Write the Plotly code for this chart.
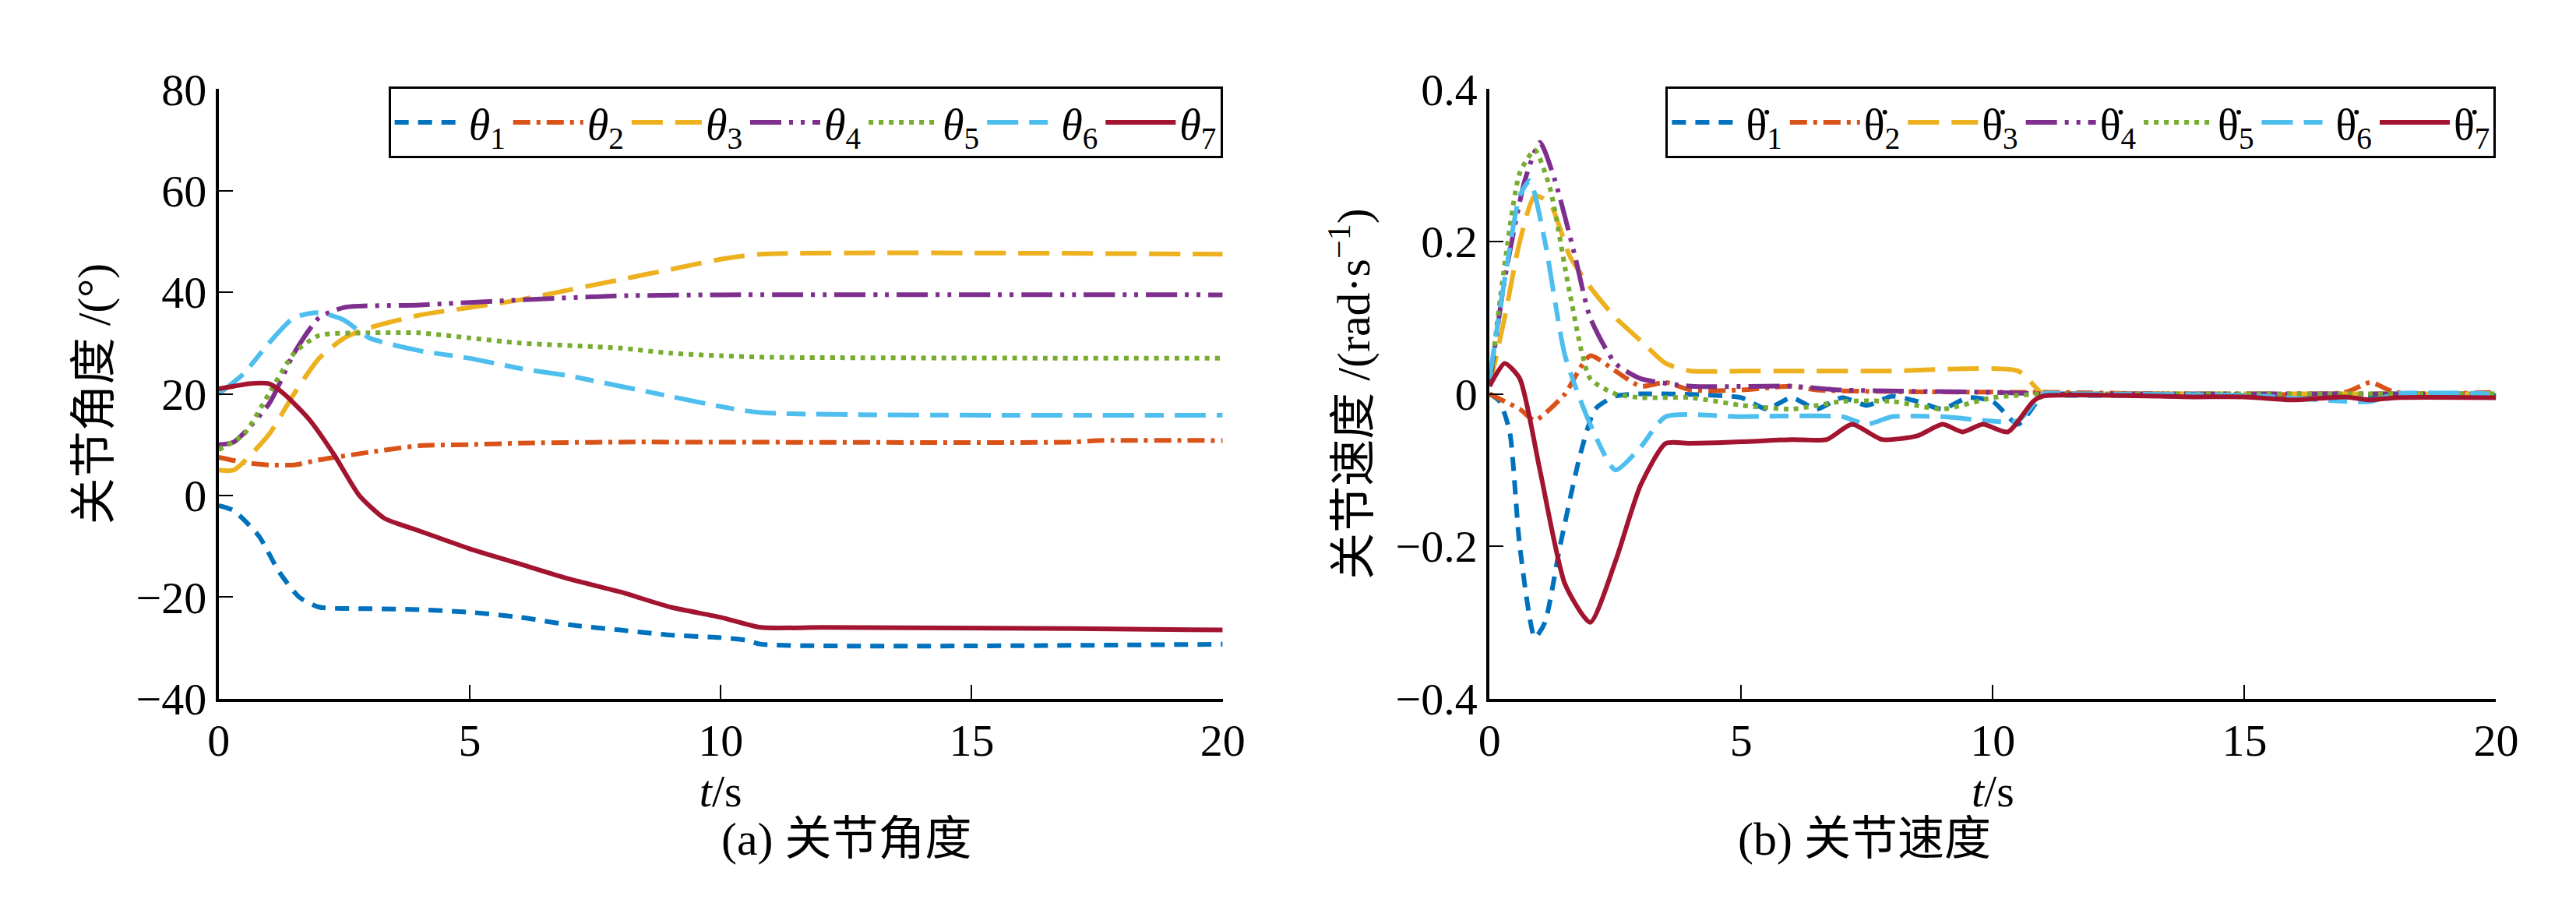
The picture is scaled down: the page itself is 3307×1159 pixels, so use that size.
import plotly.graph_objects as go

# ---- joint angles (deg) ----
t_a1 = [0, 0.3, 0.8, 1.2, 1.6, 2, 3, 4, 5, 6, 7, 8, 9, 10, 10.5, 10.8, 20]
a1 = [-2, -3, -8, -15, -20, -22, -22.3, -22.5, -23, -24, -25.5, -26.5, -27.5, -28, -28.5, -29.3, -29.3]
t_a2 = [0, 0.5, 1, 1.5, 2, 3, 4, 5, 6, 8, 17, 17.5, 20]
a2 = [7.5, 6.5, 6, 6, 7, 8.5, 9.8, 10, 10.3, 10.5, 10.5, 10.8, 10.8]
t_a3 = [0, 0.3, 1, 1.5, 2, 2.5, 3, 4, 5, 6, 7, 8, 9, 10, 10.8, 20]
a3 = [5, 5, 12, 20, 27, 31, 33, 35.5, 37, 38.5, 40.5, 42.5, 44.5, 46.5, 47.5, 47.5]
t_a4 = [0, 0.3, 1, 1.5, 2, 2.5, 4, 6, 8, 10, 20]
a4 = [10, 10.5, 18, 28, 35, 37, 37.5, 38.5, 39.3, 39.5, 39.5]
t_a5 = [0, 0.5, 1, 1.5, 2, 3, 4, 5, 6, 8, 9, 10, 11, 20]
a5 = [9, 12, 20, 28, 31.5, 32, 32, 31, 30, 29, 28, 27.5, 27.2, 27]
t_a6 = [0, 0.5, 1, 1.5, 2, 2.5, 3, 4, 5, 6, 7, 8, 9, 10, 10.8, 20]
a6 = [20, 24, 30, 35, 36, 34.5, 31, 28.5, 27, 25, 23.5, 21.5, 19.5, 17.5, 16.3, 15.8]
t_a7 = [0, 0.3, 0.6, 1, 1.3, 1.8, 2.3, 2.8, 3.3, 4, 5, 6, 7, 8, 9, 10, 10.8, 12, 17, 20]
a7 = [21, 21.5, 22, 22, 20, 15, 8, 0, -4.5, -7, -10.5, -13.5, -16.5, -19, -22, -24, -26, -26, -26.2, -26.5]

# ---- joint velocities (rad/s) ----
t_v1 = [0, 0.2, 0.4, 0.6, 0.9, 1.1, 1.4, 1.8, 2.1, 2.5, 3, 5, 5.5, 6, 6.5, 7, 7.5, 8, 8.5, 9, 9.5, 10, 10.5, 11, 11.5, 20]
v1 = [0, -0.01, -0.05, -0.2, -0.32, -0.3, -0.2, -0.08, -0.02, -0.003, 0, -0.005, -0.02, -0.005, -0.02,
      -0.005, -0.015, -0.003, -0.01, -0.02, -0.005, -0.01, -0.04, -0.002, -0.002, -0.002]
t_v2 = [0, 0.3, 0.6, 0.9, 1.2, 1.5, 2, 2.5, 3, 3.5, 4, 5, 6, 6.5, 8, 11, 17, 17.5, 18, 20]
v2 = [0, -0.01, -0.02, -0.035, -0.02, 0, 0.05, 0.03, 0.01, 0.015, 0.005, 0.005, 0.01, 0.005, 0.003,
      0.002, 0.002, 0.015, 0.002, 0.002]
t_v3 = [0, 0.3, 0.6, 0.9, 1.2, 1.6, 2, 2.5, 3, 3.5, 4, 5, 6, 8, 10.5, 11, 11.5, 20]
v3 = [0.01, 0.1, 0.2, 0.26, 0.25, 0.18, 0.14, 0.1, 0.07, 0.04, 0.03, 0.03, 0.03, 0.03, 0.03, 0, 0, 0]
t_v4 = [0, 0.3, 0.7, 1, 1.3, 1.7, 2, 2.5, 3, 4, 6, 7, 10, 11, 11.5, 20]
v4 = [0.01, 0.15, 0.28, 0.33, 0.28, 0.18, 0.1, 0.04, 0.02, 0.01, 0.01, 0.005, 0.002, 0, 0, 0]
t_v5 = [0, 0.3, 0.6, 0.9, 1.2, 1.6, 2, 2.5, 3, 4, 5, 6, 7, 8, 9, 10, 11, 11.5, 20]
v5 = [0.01, 0.17, 0.29, 0.32, 0.27, 0.13, 0.02, 0, -0.005, -0.005, -0.015, -0.02, -0.01, -0.01, -0.02,
      -0.005, 0, 0, 0]
t_v6 = [0, 0.3, 0.6, 0.8, 1.1, 1.5, 2, 2.5, 3, 3.5, 5, 7, 7.5, 8, 9, 10.5, 11, 11.5, 15, 17.5, 18, 20]
v6 = [0.02, 0.15, 0.26, 0.28, 0.2, 0.05, -0.04, -0.1, -0.07, -0.03, -0.03, -0.03, -0.04, -0.03, -0.03,
      -0.035, 0, 0, -0.002, -0.01, 0, 0]
t_v7 = [0, 0.3, 0.6, 1, 1.5, 2, 2.5, 3, 3.5, 4, 5, 6, 6.7, 7.2, 7.8, 8.5, 9, 9.4, 9.8, 10.3, 10.8, 11,
        14, 15, 16, 17, 17.5, 18, 20]
v7 = [0.01, 0.04, 0.02, -0.1, -0.25, -0.3, -0.22, -0.12, -0.065, -0.065, -0.063, -0.06, -0.06, -0.04,
      -0.06, -0.055, -0.04, -0.05, -0.04, -0.05, -0.01, -0.003, -0.004, -0.004, -0.008, -0.004, -0.008,
      -0.005, -0.005]

colors = ["#0072BD", "#D95319", "#EDB120", "#7E2F8E", "#77AC30", "#4DBEEE", "#A2142F"]
dashes = ["18px,12px", "22px,8px,5px,8px", "40px,16px", "40px,10px,5px,10px,5px,10px",
          "6px,7px", "40px,14px,24px,14px", "solid"]

angles = [(t_a1, a1), (t_a2, a2), (t_a3, a3), (t_a4, a4), (t_a5, a5), (t_a6, a6), (t_a7, a7)]
vels = [(t_v1, v1), (t_v2, v2), (t_v3, v3), (t_v4, v4), (t_v5, v5), (t_v6, v6), (t_v7, v7)]

fig = go.Figure()
for i, (tt, yy) in enumerate(angles):
    fig.add_trace(go.Scatter(x=tt, y=yy, mode="lines",
                             line=dict(color=colors[i], width=6, dash=dashes[i], shape="spline", smoothing=0.6),
                             name=f"<i>θ</i><sub>{i+1}</sub>", legend="legend",
                             xaxis="x", yaxis="y"))
for i, (tt, yy) in enumerate(vels):
    fig.add_trace(go.Scatter(x=tt, y=yy, mode="lines",
                             line=dict(color=colors[i], width=6, dash=dashes[i], shape="spline", smoothing=0.6),
                             name=f"θ\u0307<sub>{i+1}</sub>", legend="legend2",
                             xaxis="x2", yaxis="y2"))

font = "Liberation Serif, Noto Sans CJK SC"
ax = dict(showline=True, linecolor="black", linewidth=4, ticks="inside", ticklen=18,
          tickwidth=2, tickcolor="black", showgrid=False, zeroline=False, mirror=False,
          tickfont=dict(size=58, family=font, color="black"))
leg = dict(orientation="h", yanchor="top", xanchor="right", bordercolor="black", borderwidth=3,
           bgcolor="white", font=dict(size=56, family=font, color="black"),
           itemwidth=90, tracegroupgap=0)

fig.update_layout(
    width=3307, height=1159, margin=dict(l=0, r=0, t=0, b=0),
    paper_bgcolor="white", plot_bgcolor="white",
    font=dict(family=font, color="black"),
    xaxis=dict(ax, domain=[0.079, 0.474], range=[0, 20], tickvals=[0, 5, 10, 15, 20],
               title=dict(text="<i>t</i>/s", font=dict(size=58), standoff=0)),
    yaxis=dict(ax, domain=[0.217, 0.932], range=[-40, 80], tickvals=[-40, -20, 0, 20, 40, 60, 80],
               ticktext=["−40", "−20", "0", "20", "40", "60", "80"],
               title=dict(text="关节角度 /(°)", font=dict(size=60), standoff=14)),
    xaxis2=dict(ax, domain=[0.579, 0.975], range=[0, 20], tickvals=[0, 5, 10, 15, 20],
                title=dict(text="<i>t</i>/s", font=dict(size=58), standoff=0), anchor="y2"),
    yaxis2=dict(ax, domain=[0.217, 0.932], range=[-0.4, 0.4], tickvals=[-0.4, -0.2, 0, 0.2, 0.4],
                ticktext=["−0.4", "−0.2", "0", "0.2", "0.4"], anchor="x2",
                title=dict(text="关节速度 /(rad·s<sup>−1</sup>)", font=dict(size=60), standoff=14)),
    legend=dict(leg, x=0.474, y=0.935),
    legend2=dict(leg, x=0.975, y=0.935),
    annotations=[
        dict(text="(a) 关节角度", x=0.276, y=0.02, xref="paper", yref="paper", showarrow=False,
             yanchor="bottom", font=dict(size=60, family=font)),
        dict(text="(b) 关节速度", x=0.777, y=0.02, xref="paper", yref="paper", showarrow=False,
             yanchor="bottom", font=dict(size=60, family=font)),
    ],
)
fig.write_html("out.html")
